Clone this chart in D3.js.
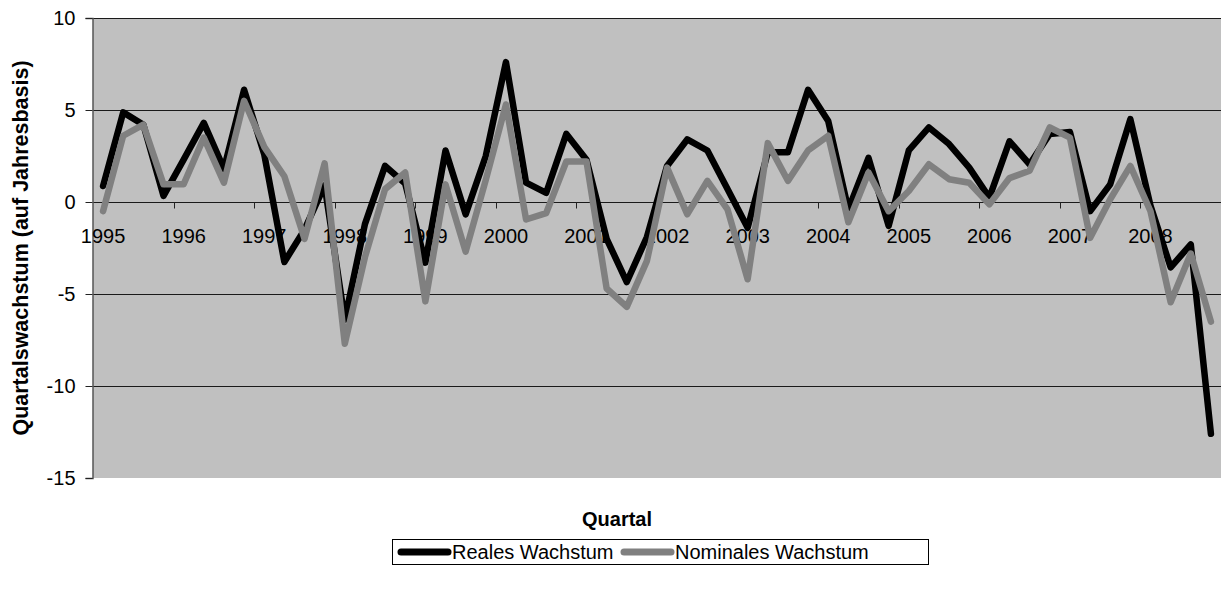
<!DOCTYPE html>
<html>
<head>
<meta charset="utf-8">
<script src="https://cdn.jsdelivr.net/npm/d3@7"></script>
<style>
  body { margin: 0; background: #fff; }
  text { font-family: "Liberation Sans", Arial, sans-serif; }
</style>
</head>
<body>
<svg id="chart" width="1221" height="592"></svg>
<script>
// quarters 1995Q1 .. 2008Q4
const years = d3.range(1995, 2009).map(String);
const quarters = years.flatMap(y => ["Q1", "Q2", "Q3", "Q4"].map(q => y + q));

const realGrowth = [0.87, 4.87, 4.2, 0.33, 2.3, 4.3, 1.8, 6.1, 2.6, -3.26, -1.5, 0.9, -6.4, -1.2,
  1.96, 1.0, -3.3, 2.8, -0.67, 2.5, 7.6, 1.05, 0.5, 3.7, 2.3, -2.0, -4.35, -1.9,
  1.96, 3.4, 2.8, 0.7, -1.4, 2.7, 2.7, 6.1, 4.4, -0.4, 2.4, -1.3, 2.8, 4.05,
  3.15, 1.87, 0.24, 3.3, 2.05, 3.7, 3.8, -0.5, 0.96, 4.5, -0.2, -3.55, -2.3, -12.6];

const nominalGrowth = [-0.5, 3.6, 4.2, 0.96, 0.96, 3.5, 1.05, 5.5, 3.0, 1.4, -2.0, 2.1, -7.7, -3.0,
  0.7, 1.6, -5.4, 0.96, -2.7, 1.2, 5.3, -0.95, -0.6, 2.2, 2.2, -4.7, -5.7, -3.2,
  1.87, -0.67, 1.15, -0.4, -4.2, 3.2, 1.15, 2.8, 3.6, -1.1, 1.6, -0.5, 0.6, 2.05,
  1.24, 1.05, -0.13, 1.3, 1.7, 4.05, 3.5, -1.95, 0.15, 1.96, -0.5, -5.45, -2.8, -6.5];

const yTicks = [-15, -10, -5, 0, 5, 10];
const seriesNames = ["Reales Wachstum", "Nominales Wachstum"];

const plot = { left: 93, right: 1221, top: 18, bottom: 478 };
const svg = d3.select("#chart");

const x = d3.scaleBand()
  .domain(d3.range(quarters.length))
  .range([plot.left, plot.right])
  .padding(0);

const y = d3.scaleLinear()
  .domain([-15, 10])
  .range([plot.bottom, plot.top]);

// plot background
svg.append("rect")
  .attr("x", plot.left)
  .attr("y", plot.top)
  .attr("width", plot.right - plot.left)
  .attr("height", plot.bottom - plot.top)
  .attr("fill", "#c0c0c0");

// gridlines
svg.append("g")
  .selectAll("line")
  .data(yTicks.filter(d => d !== -15))
  .enter()
  .append("line")
  .attr("x1", plot.left)
  .attr("x2", plot.right)
  .attr("y1", d => Math.round(y(d)) + 0.5)
  .attr("y2", d => Math.round(y(d)) + 0.5)
  .attr("stroke", "#1a1a1a")
  .attr("stroke-width", 1);

// y axis
const yAxis = svg.append("g")
  .attr("transform", `translate(${plot.left - 0.5},0)`)
  .call(d3.axisLeft(y).tickValues(yTicks).tickSize(7).tickPadding(10).tickFormat(d => String(d)));
yAxis.select(".domain").attr("stroke", "#555").attr("stroke-width", 1.5);
yAxis.selectAll(".tick line").attr("stroke", "#222");
yAxis.selectAll("text")
  .style("font-size", "20px")
  .attr("fill", "#000")
  .attr("font-family", "Liberation Sans, Arial, sans-serif");

// category axis at zero
const zeroY = Math.round(y(0)) + 0.5;
const xAxis = svg.append("g");
xAxis.selectAll("line")
  .data(d3.range(4, quarters.length, 4))
  .enter()
  .append("line")
  .attr("x1", i => Math.round(x(i)) + 0.5)
  .attr("x2", i => Math.round(x(i)) + 0.5)
  .attr("y1", zeroY)
  .attr("y2", zeroY + 6)
  .attr("stroke", "#222");
xAxis.selectAll("text")
  .data(d3.range(0, quarters.length, 4))
  .enter()
  .append("text")
  .attr("x", i => x(i) + x.bandwidth() / 2)
  .attr("y", zeroY + 40)
  .attr("text-anchor", "middle")
  .style("font-size", "20px")
  .text(i => quarters[i].slice(0, 4));

// lines
const line = d3.line()
  .x((d, i) => x(i) + x.bandwidth() / 2)
  .y(d => y(d));

const colors = ["#000000", "#808080"];
[realGrowth, nominalGrowth].forEach((values, k) => {
  svg.append("path")
    .datum(values)
    .attr("d", line)
    .attr("fill", "none")
    .attr("stroke", colors[k])
    .attr("stroke-width", 6.5)
    .attr("stroke-linejoin", "round")
    .attr("stroke-linecap", "round");
});

// axis titles
svg.append("text")
  .attr("transform", `translate(28,${(plot.top + plot.bottom) / 2}) rotate(-90)`)
  .attr("text-anchor", "middle")
  .style("font-size", "21.5px")
  .style("font-weight", "bold")
  .text("Quartalswachstum (auf Jahresbasis)");

svg.append("text")
  .attr("x", 617)
  .attr("y", 526)
  .attr("text-anchor", "middle")
  .style("font-size", "20px")
  .style("font-weight", "bold")
  .text("Quartal");

// legend
const legend = svg.append("g").attr("transform", "translate(392,539)");
legend.append("rect")
  .attr("x", 0.5).attr("y", 0.5)
  .attr("width", 536).attr("height", 25)
  .attr("fill", "#fff")
  .attr("stroke", "#000");

const legendX = [5, 228];
seriesNames.forEach((name, k) => {
  legend.append("line")
    .attr("x1", legendX[k] + 4).attr("x2", legendX[k] + 51)
    .attr("y1", 13).attr("y2", 13)
    .attr("stroke", colors[k])
    .attr("stroke-width", 7)
    .attr("stroke-linecap", "round");
  legend.append("text")
    .attr("x", legendX[k] + 55)
    .attr("y", 20)
    .style("font-size", "20px")
    .text(name);
});
</script>
</body>
</html>
